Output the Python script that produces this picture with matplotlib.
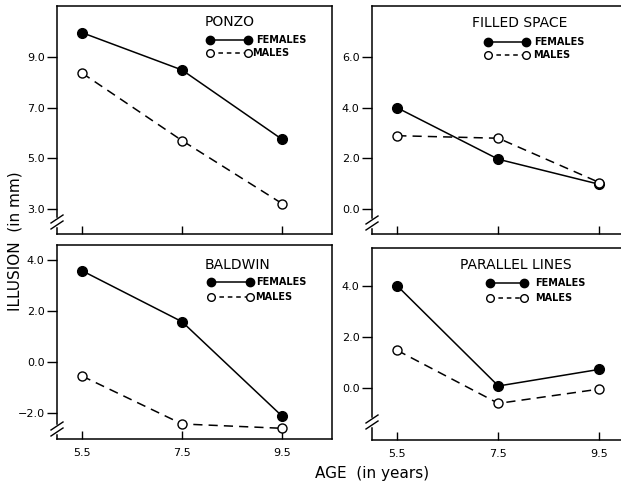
import matplotlib
matplotlib.use("Agg")
import matplotlib.pyplot as plt
from matplotlib.lines import Line2D

plt.rcParams['font.family'] = ['DejaVu Sans']

ages = [5.5, 7.5, 9.5]
age_ticks = [5.5, 7.5, 9.5]
age_labels = ["5.5", "7.5", "9.5"]

ponzo_f = [9.95, 8.48, 5.75]
ponzo_m = [8.36, 5.70, 3.22]
filled_f = [4.0, 1.97, 0.98]
filled_m = [2.9, 2.8, 1.05]
baldwin_f = [3.58, 1.58, -2.12]
baldwin_m = [-0.55, -2.43, -2.60]
parallel_f = [4.0, 0.09, 0.74]
parallel_m = [1.48, -0.59, -0.03]

titles = ["PONZO", "FILLED SPACE", "BALDWIN", "PARALLEL LINES"]
ponzo_yticks = [3.0, 5.0, 7.0, 9.0]
filled_yticks = [0.0, 2.0, 4.0, 6.0]
baldwin_yticks = [-2.0, 0.0, 2.0, 4.0]
parallel_yticks = [0.0, 2.0, 4.0]

W, H = 621, 486
fig = plt.figure(figsize=(W / 100, H / 100), dpi=100)


def fx(x):
    return x / W


def fy(y):
    return 1 - y / H


def make_ax(l, r, t, b):
    return fig.add_axes([fx(l), fy(b), fx(r) - fx(l), (b - t) / H])


panels = [
    dict(box=(57, 332, 6, 234.5), f=ponzo_f, m=ponzo_m, yt=ponzo_yticks, ylim=(2.0, 11.0),
         title=titles[0], bottom=False, brk=222,
         leg=dict(tx=205, ty=22, fy=40, fm=53.5, x0=210, x1=248, ftx=256, mtx=252)),
    dict(box=(372, 650, 6.5, 234.5), f=filled_f, m=filled_m, yt=filled_yticks, ylim=(-1.0, 8.0),
         title=titles[1], bottom=False, brk=223,
         leg=dict(tx=472, ty=23, fy=41.7, fm=55, x0=488, x1=526, ftx=534, mtx=533)),
    dict(box=(57, 332, 244.7, 438.5), f=baldwin_f, m=baldwin_m, yt=baldwin_yticks, ylim=(-3.0, 4.6),
         title=titles[2], bottom=True, brk=429,
         leg=dict(tx=205, ty=265, fy=281.7, fm=297.3, x0=211, x1=250, ftx=256, mtx=255)),
    dict(box=(372, 650, 247.5, 439.5), f=parallel_f, m=parallel_m, yt=parallel_yticks, ylim=(-2.0, 5.5),
         title=titles[3], bottom=True, brk=422,
         leg=dict(tx=460, ty=265, fy=282.7, fm=298.3, x0=490, x1=524, ftx=535, mtx=535)),
]

lw = 1.1
for p in panels:
    l, r, t, b = p["box"]
    ax = make_ax(l, r, t, b)
    ax.set_xlim(5.0, 10.5)
    ax.set_ylim(*p["ylim"])
    ax.plot(ages, p["f"], color="black", lw=lw, marker="o", ms=7, mfc="black", mec="black")
    ax.plot(ages, p["m"], color="black", lw=lw, ls=(0, (6, 4)), marker="o", ms=6.5,
            mfc="white", mec="black", mew=1.0)
    ax.set_xticks(age_ticks)
    ax.set_yticks(p["yt"])
    ax.set_yticklabels([f"{v:.1f}".replace("-", "\u2212") for v in p["yt"]], fontsize=8)
    ax.tick_params(axis="x", direction="in", length=6, width=1, pad=7)
    ax.tick_params(axis="y", direction="out", length=7, width=1, pad=2)
    if p["bottom"]:
        ax.set_xticklabels(age_labels, fontsize=8)
    else:
        ax.set_xticklabels([])
    for s in ax.spines.values():
        s.set_linewidth(1.1)
    # axis break marks on left spine
    yb = p["brk"]
    fig.add_artist(Line2D([fx(l), fx(l)], [fy(yb - 3), fy(yb + 3)], color="white", lw=2.5))
    for dy in (-3, 3):
        fig.add_artist(Line2D([fx(l - 6), fx(l + 6)], [fy(yb + dy + 4), fy(yb + dy - 4)],
                              color="black", lw=1.0))
    # legend block
    g = p["leg"]
    fig.text(fx(g["tx"]), fy(g["ty"]), p["title"], fontsize=10, ha="left", va="center")
    fig.add_artist(Line2D([fx(g["x0"]), fx(g["x1"])], [fy(g["fy"]), fy(g["fy"])], color="black",
                          lw=lw, marker="o", ms=6, mfc="black", mec="black"))
    fig.add_artist(Line2D([fx(g["x0"]), fx(g["x1"])], [fy(g["fm"]), fy(g["fm"])], color="black",
                          lw=lw, ls=(0, (3, 2.5)), marker="o", ms=5.5, mfc="white", mec="black"))
    fig.text(fx(g["ftx"]), fy(g["fy"]), "FEMALES", fontsize=7, fontweight="bold",
             ha="left", va="center")
    fig.text(fx(g["mtx"]), fy(g["fm"]), "MALES", fontsize=7, fontweight="bold",
             ha="left", va="center")

fig.text(fx(15), fy(241), "ILLUSION  (in mm)", rotation=90, fontsize=11, ha="center", va="center")
fig.text(fx(372), fy(473), "AGE  (in years)", fontsize=11, ha="center", va="center")

fig.savefig("out.png", dpi=100)
